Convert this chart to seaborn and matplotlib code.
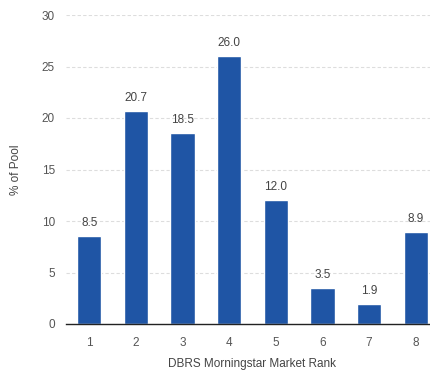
import matplotlib
matplotlib.use("Agg")
import matplotlib.pyplot as plt
import seaborn as sns
import pandas as pd

ranks = ["1", "2", "3", "4", "5", "6", "7", "8"]
pct_of_pool = [8.5, 20.7, 18.5, 26.0, 12.0, 3.5, 1.9, 8.9]
y_ticks = [0, 5, 10, 15, 20, 25, 30]

df = pd.DataFrame({"rank": ranks, "pct": pct_of_pool})

sns.set_theme(style="white")
plt.rcParams["font.family"] = ["Liberation Sans", "DejaVu Sans"]

fig = plt.figure(figsize=(4.3, 3.72), dpi=100)
ax = fig.add_axes([66 / 430, 48 / 372, 373 / 430, 309 / 372])

sns.barplot(data=df, x="rank", y="pct", color="#1F55A5", saturation=1,
            width=0.52, ax=ax, zorder=3)

ax.set_ylim(0, 30)
ax.set_yticks(y_ticks)
ax.set_xlim(-0.5, len(ranks) - 0.5)
ax.yaxis.grid(True, color="#dddddd", linestyle=(0, (3, 2)), linewidth=0.8, zorder=0)
ax.xaxis.grid(False)
for side in ["top", "right", "left"]:
    ax.spines[side].set_visible(False)
ax.spines["bottom"].set_color("#222222")
ax.spines["bottom"].set_linewidth(1.0)
ax.spines["bottom"].set_zorder(4)
ax.tick_params(axis="both", length=0, labelsize=8.5, labelcolor="#555555")
ax.tick_params(axis="x", pad=9)
ax.tick_params(axis="y", pad=8)

for i, v in enumerate(pct_of_pool):
    ax.text(i, v + 0.7, f"{v:.1f}", ha="center", va="bottom",
            fontsize=8.5, color="#444444")

ax.set_xlabel("DBRS Morningstar Market Rank", fontsize=8.5, color="#444444", labelpad=7)
ax.set_ylabel("% of Pool", fontsize=8.5, color="#444444", labelpad=14)

fig.savefig("out.png", dpi=100)
